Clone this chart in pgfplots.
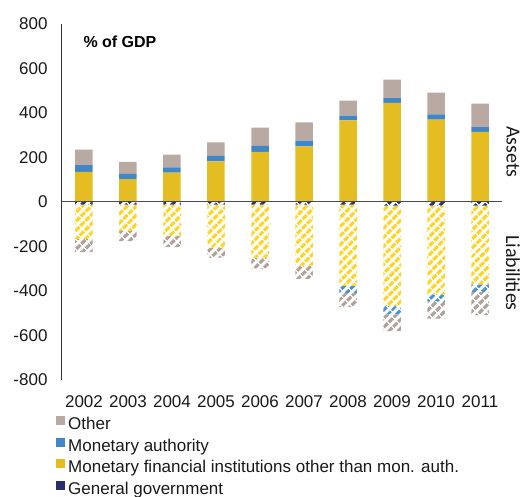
\documentclass[border=0pt]{standalone}
\usepackage{pgfplots}
\pgfplotsset{compat=1.18}
\usepackage{fontspec}
\setmainfont{Liberation Sans}
\newfontfamily\carlito{Carlito}
\usetikzlibrary{patterns.meta}
\definecolor{cOther}{HTML}{B8AAA2}
\definecolor{cMA}{HTML}{3F87C8}
\definecolor{cMFI}{HTML}{E3BD22}
\definecolor{cGov}{HTML}{2A2F6C}
\definecolor{hOther}{HTML}{B0A29A}
\definecolor{hMA}{HTML}{4A92D4}
\definecolor{hMFI}{HTML}{FFD424}
\definecolor{hGov}{HTML}{2E3278}
\begin{document}
\begin{tikzpicture}
\pgfplotsset{
  base/.style={scale only axis, width=440pt, height=356pt,
    xmin=-0.5, xmax=9.5, ymin=-800, ymax=800,
    ybar stacked, bar width=17.5pt},
  sq/.style={legend image code/.code={\fill[##1] (0pt,0pt) rectangle (9pt,9pt);}},
  hatch/.style={draw=none, pattern={Lines[angle=45,distance=6.5pt,line width=3.6pt]}, pattern color=#1}
}
\path[use as bounding box] (-62pt,-117pt) rectangle (461pt,380pt);
\begin{axis}[base,
  axis y line*=left, axis x line*=bottom,
  x axis line style={draw=none},
  y axis line style={draw=black!80, line width=1pt, -},
  major tick length=0pt,
  xtick={0,...,9}, xticklabels={2002,2003,2004,2005,2006,2007,2008,2009,2010,2011},
  ytick={-800,-600,-400,-200,0,200,400,600,800},
  yticklabels={-800,-600,-400,-200,0,200,400,600,800},
  tick label style={font=\fontsize{17}{20}\selectfont, text=black!90},
  yticklabel style={xshift=-11pt},
  xticklabel style={yshift=-12pt},
  reverse legend,
  legend cell align=left,
  legend style={at={(0,0)}, anchor=north west, xshift=-6pt, yshift=-36pt,
    draw=none, fill=none, font=\fontsize{17}{20}\selectfont, text=black!90,
    row sep=4pt, inner sep=0pt,
    nodes={inner ysep=0pt, inner xsep=3pt, text height=13pt, text depth=4pt}},
]
\addplot[fill=cGov, draw=none, sq] coordinates {(0,0) (1,0) (2,0) (3,0) (4,0) (5,0) (6,0) (7,0) (8,0) (9,0)};
\addlegendentry{General government}
\addplot[fill=cMFI, draw=none, sq] coordinates {(0,135) (1,103) (2,132) (3,183) (4,225) (5,250) (6,367) (7,445) (8,370) (9,315)};
\addlegendentry{Monetary financial institutions other than mon. auth.}
\addplot[fill=cMA, draw=none, sq] coordinates {(0,31) (1,23) (2,24) (3,24) (4,27) (5,26) (6,21) (7,22) (8,24) (9,22)};
\addlegendentry{Monetary authority}
\addplot[fill=cOther, draw=none, sq] coordinates {(0,69) (1,54) (2,57) (3,61) (4,82) (5,82) (6,68) (7,83) (8,98) (9,105)};
\addlegendentry{Other}
\end{axis}
\begin{axis}[base, hide axis, clip=false]
\addplot[hatch=hGov] coordinates {(0,-12) (1,-12) (2,-12) (3,-12) (4,-12) (5,-12) (6,-12) (7,-16) (8,-16) (9,-16)};
\addplot[hatch=hMFI] coordinates {(0,-154) (1,-119) (2,-141) (3,-194) (4,-238) (5,-274) (6,-365) (7,-451) (8,-399) (9,-354)};
\addplot[hatch=hMA] coordinates {(0,0) (1,0) (2,0) (3,0) (4,0) (5,0) (6,-31) (7,-38) (8,-31) (9,-34)};
\addplot[hatch=hOther] coordinates {(0,-59) (1,-45) (2,-50) (3,-44) (4,-50) (5,-60) (6,-63) (7,-75) (8,-78) (9,-105)};
\draw[black!70, line width=1pt] (axis cs:-0.5,0) -- (axis cs:9.5,0);
\node[anchor=west, font=\bfseries\fontsize{16}{19}\selectfont] at ([xshift=18pt, yshift=-18pt]rel axis cs:0,1) {\% of GDP};
\node[rotate=-90, font=\carlito\fontsize{20}{24}\selectfont, text=black!90] at ([xshift=11pt]axis cs:9.5,225) {Assets};
\node[rotate=-90, font=\carlito\fontsize{20}{24}\selectfont, text=black!90] at ([xshift=11pt]axis cs:9.5,-319) {Liabilities};
\end{axis}
\end{tikzpicture}
\end{document}
